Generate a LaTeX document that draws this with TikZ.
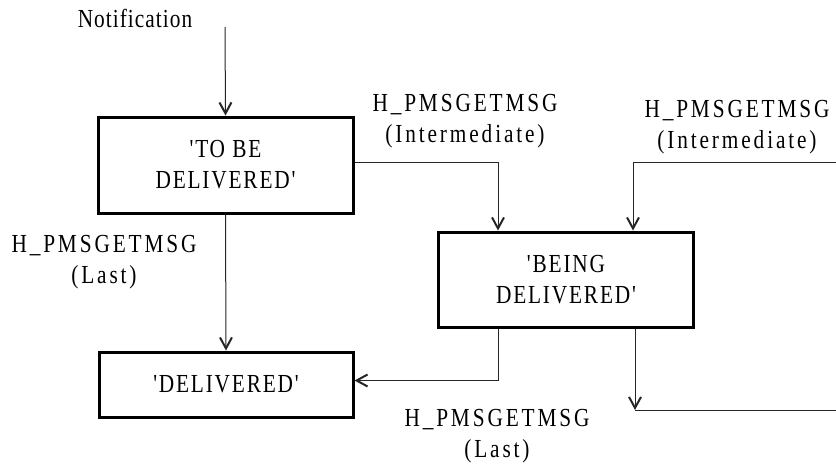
\documentclass[tikz,border=0pt]{standalone}
\usepackage{fontspec}
\setmainfont{Liberation Serif}
\newfontfamily\lblfont[FakeStretch=0.82,LetterSpace=11]{Liberation Serif}
\newfontfamily\boxfont[FakeStretch=0.82,LetterSpace=7]{Liberation Serif}
\newfontfamily\plainfont[FakeStretch=0.82,LetterSpace=4]{Liberation Serif}
\usetikzlibrary{arrows.meta}

\begin{document}
\begin{tikzpicture}[x=1pt,y=-1pt,
  statebox/.style={draw=black, line width=3pt, minimum width=255pt,
    inner sep=0pt, align=center,
    font=\boxfont\fontsize{26}{31}\selectfont},
  lbl/.style={inner sep=0pt, align=center,
    font=\lblfont\fontsize{26}{31}\selectfont},
  conn/.style={draw=black!85, line width=1pt,
    -{Straight Barb[length=11pt,width=12pt,line width=2pt]}},
  plain/.style={draw=black!85, line width=1pt}]

\useasboundingbox (0,0) rectangle (836,464);

% states
\node[statebox, minimum height=96pt] (tobe) at (225.5,165) {'TO BE\\DELIVERED'};
\node[statebox, minimum height=95pt] (being) at (566,279.5) {'BEING\\DELIVERED'};
\node[statebox, minimum height=65pt, minimum width=254pt] (done) at (226,384.5) {'DELIVERED'};

% free ends of connectors
\coordinate (notif) at (225,27);
\coordinate (rightin) at (836,162);
\coordinate (lastcorner) at (635,410);
\coordinate (rightout) at (836,410);

% labels
\node[lbl, font=\plainfont\fontsize{26}{31}\selectfont] (lnotif) at (135,18) {Notification};
\node[lbl] (lint1) at (465,121) {H\_PMSGETMSG\\(Intermediate)};
\node[lbl] (lint2) at (737,127) {H\_PMSGETMSG\\(Intermediate)};
\node[lbl] (llast1) at (104,262) {H\_PMSGETMSG\\(Last)};
\node[lbl] (llast2) at (497,436) {H\_PMSGETMSG\\(Last)};

% transitions
\draw[conn] (notif) -- (tobe.north);
\draw[conn] ([yshift=3pt]tobe.east) -| ([xshift=-68pt]being.north);
\draw[conn] (rightin) -| ([xshift=67pt]being.north);
\draw[conn] (tobe.south) -- (done.north);
\draw[conn] ([xshift=-68pt]being.south) |- ([yshift=4pt]done.east);
\draw[conn] (being.south -| lastcorner) -- (lastcorner);
\draw[plain] (lastcorner) -- (rightout);

\end{tikzpicture}
\end{document}
